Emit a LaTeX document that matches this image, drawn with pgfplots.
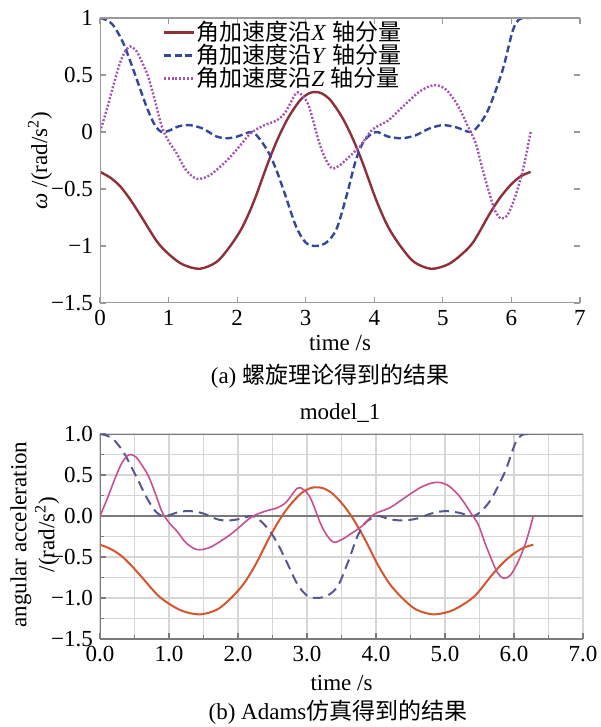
\documentclass[border=0pt]{standalone}
\usepackage{pgfplots}
\pgfplotsset{compat=1.18}
\usepackage{pgfplotstable}
\usepackage{fontspec}
\setmainfont{Liberation Serif}
\newfontfamily\cjk{Noto Sans CJK SC}

\definecolor{cX}{HTML}{8E2F3A}
\definecolor{cY}{HTML}{34479A}
\definecolor{cZ}{HTML}{A455AE}
\definecolor{bX}{HTML}{D4562E}
\definecolor{bY}{HTML}{55588F}
\definecolor{bZ}{HTML}{C9508E}
\definecolor{axgray}{HTML}{9A9A9A}
\definecolor{dkgray}{HTML}{7A7A7A}
\definecolor{grd}{HTML}{D6D6D6}

\pgfplotstableread{
t v
0 -0.35
0.15 -0.40
0.3 -0.48
0.45 -0.60
0.6 -0.74
0.83 -0.96
1.0 -1.07
1.2 -1.16
1.45 -1.20
1.7 -1.14
1.9 -1.00
2.08 -0.83
2.25 -0.60
2.45 -0.27
2.6 -0.05
2.75 0.13
2.92 0.28
3.05 0.34
3.14 0.35
3.23 0.34
3.36 0.28
3.53 0.13
3.68 -0.05
3.83 -0.27
4.03 -0.60
4.2 -0.83
4.38 -1.00
4.58 -1.14
4.83 -1.20
5.08 -1.16
5.28 -1.07
5.45 -0.96
5.68 -0.72
5.83 -0.58
5.98 -0.47
6.13 -0.39
6.28 -0.35
}\dataX

\pgfplotstableread{
t v
0 1.0
0.1 0.98
0.2 0.93
0.34 0.78
0.49 0.54
0.68 0.22
0.8 0.06
0.9 0.0
1.0 0.01
1.15 0.05
1.31 0.06
1.5 0.03
1.7 -0.04
1.85 -0.055
2.0 -0.04
2.2 0.0
2.3 -0.04
2.45 -0.17
2.57 -0.33
2.7 -0.55
2.86 -0.83
3.0 -0.97
3.14 -1.0
3.3 -0.97
3.45 -0.85
3.6 -0.55
3.73 -0.25
3.85 -0.08
4.02 0.0
4.2 -0.04
4.4 -0.055
4.6 -0.03
4.8 0.03
5.0 0.06
5.2 0.04
5.41 0.0
5.55 0.08
5.68 0.22
5.87 0.54
6.02 0.89
6.12 0.99
6.28 1.0
}\dataY

\pgfplotstableread{
t v
0 0.0
0.1 0.2
0.2 0.42
0.3 0.62
0.38 0.72
0.44 0.75
0.52 0.72
0.6 0.63
0.7 0.49
0.8 0.28
0.9 0.05
1.0 -0.08
1.12 -0.19
1.25 -0.33
1.41 -0.41
1.6 -0.38
1.85 -0.25
2.0 -0.15
2.2 -0.01
2.4 0.06
2.57 0.10
2.7 0.17
2.86 0.34
2.95 0.32
3.05 0.22
3.2 -0.1
3.3 -0.25
3.39 -0.32
3.5 -0.29
3.63 -0.22
3.8 -0.12
3.97 0.02
4.2 0.1
4.36 0.19
4.5 0.27
4.65 0.35
4.8 0.40
4.92 0.41
5.05 0.37
5.18 0.27
5.28 0.16
5.38 0.03
5.48 -0.1
5.58 -0.33
5.68 -0.54
5.76 -0.69
5.85 -0.76
5.95 -0.72
6.07 -0.54
6.18 -0.3
6.28 0.0
}\dataZ

\begin{document}
\begin{tikzpicture}
\useasboundingbox (-50pt,-212pt) rectangle (250pt,151.5pt);
\pgfplotsset{every axis/.append style={font=\fontsize{11.5}{14}\selectfont}}
% ---------------- top axis ----------------
\begin{axis}[
  at={(0,0)}, anchor=south west, scale only axis,
  width=240pt, height=142.5pt,
  xmin=0, xmax=7, ymin=-1.5, ymax=1,
  xtick={0,1,2,3,4,5,6,7},
  xticklabels={0,1,2,3,4,5,6,7},
  ytick={-1.5,-1,-0.5,0,0.5,1},
  yticklabels={−1.5,−1,−0.5,0,0.5,1},
  axis line style={draw=none},
  tick align=inside,
  major tick length=3pt,
  tick style={axgray, line width=0.6pt},
  xlabel={time /s},
  xlabel style={at={(axis description cs:0.5,-0.14)}, anchor=center},
  ylabel={\textit{ω} /(rad/s\textsuperscript{2})},
  ylabel style={at={(axis description cs:-0.125,0.5)}, anchor=center},
  legend style={at={(axis description cs:0.129,0.99)}, anchor=north west,
    draw=none, fill=none, font=\fontsize{11.5}{12}\selectfont,
    row sep=0pt, inner sep=0pt,
    nodes={inner sep=0.5pt, text height=9pt, text depth=1.5pt}},
  legend cell align=left,
  legend image code/.code={\draw[#1] (0pt,0pt) -- (15pt,0pt);},
]
\addplot[cX, line width=1.2pt, smooth, legend image post style={line width=1.7pt}] table[x=t,y=v] {\dataX};
\addlegendentry{{\cjk 角加速度沿}\textit{X} {\cjk 轴分量}}
\addplot[cY, line width=1.2pt, smooth, dash pattern=on 3.5pt off 1.8pt, legend image post style={line width=1.7pt}] table[x=t,y=v] {\dataY};
\addlegendentry{{\cjk 角加速度沿}\textit{Y} {\cjk 轴分量}}
\addplot[cZ, line width=1.2pt, smooth, dash pattern=on 1pt off 0.9pt, legend image post style={line width=1.7pt}] table[x=t,y=v] {\dataZ};
\addlegendentry{{\cjk 角加速度沿}\textit{Z} {\cjk 轴分量}}
\draw[axgray, line width=0.8pt] (rel axis cs:0,1) -- (rel axis cs:0,0) -- (rel axis cs:1,0);
\draw[axgray, line width=0.8pt] (rel axis cs:0,1) -- (rel axis cs:1,1);
\end{axis}
\node[font=\fontsize{11.5}{14}\selectfont] at (115pt,-36.5pt) {(a) {\cjk 螺旋理论得到的结果}};
\node[font=\fontsize{11.5}{14}\selectfont] at (120pt,-55pt) {model\_1};
% ---------------- bottom axis ----------------
\begin{axis}[
  at={(0,-168pt)}, anchor=south west, scale only axis,
  width=241.5pt, height=102.5pt,
  xmin=0, xmax=7, ymin=-1.5, ymax=1,
  xtick={0,1,2,3,4,5,6,7},
  xticklabels={0.0,1.0,2.0,3.0,4.0,5.0,6.0,7.0},
  ytick={-1.5,-1,-0.5,0,0.5,1},
  yticklabels={−1.5,−1.0,−0.5,0.0,0.5,1.0},
  minor x tick num=1, minor y tick num=1,
  grid=both,
  major grid style={grd, line width=0.7pt},
  minor grid style={grd, line width=0.7pt},
  axis line style={draw=none},
  xtick pos=left, ytick pos=left,
  tick align=inside,
  major tick length=3pt, minor tick length=2pt,
  tick style={dkgray, line width=0.6pt},
  xlabel={time /s},
  xlabel style={at={(axis description cs:0.5,-0.215)}, anchor=center},
  ylabel={angular acceleration\\/(rad/s\textsuperscript{2})},
  ylabel style={at={(axis description cs:-0.135,0.51)}, anchor=center, align=center},
]
\draw[dkgray, line width=0.9pt] (rel axis cs:0,1) -- (rel axis cs:0,0) -- (rel axis cs:1,0);
\draw[dkgray, line width=0.9pt] (rel axis cs:0,1) -- (rel axis cs:1,1);
\draw[dkgray, line width=0.9pt] (axis cs:0,0) -- (axis cs:7,0);
\addplot[bX, line width=1pt, smooth] table[x=t,y=v] {\dataX};
\addplot[bY, line width=1pt, smooth, dash pattern=on 5pt off 3pt] table[x=t,y=v] {\dataY};
\addplot[bZ, line width=0.8pt, smooth] table[x=t,y=v] {\dataZ};
\end{axis}
\node[font=\fontsize{11.5}{14}\selectfont] at (119pt,-204.5pt) {(b) Adams{\cjk 仿真得到的结果}};
\end{tikzpicture}
\end{document}
